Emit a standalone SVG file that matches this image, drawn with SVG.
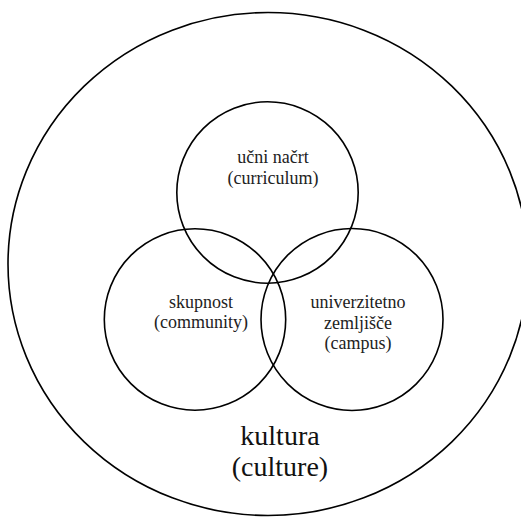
<svg xmlns="http://www.w3.org/2000/svg" width="521" height="517" viewBox="0 0 521 517">
<style>
.c{fill:none;stroke:#000;stroke-width:1.6}
.t{font-size:18px;fill:#222;text-anchor:middle}
.k{font-size:28px;fill:#111;text-anchor:middle}
</style>
<rect width="521" height="517" fill="#fff"/>
<g id="culture" font-family="Liberation Serif, DejaVu Serif, serif">
<ellipse class="c" cx="268" cy="264" rx="260" ry="251.5"/>
<text class="k" x="280" y="445">kultura</text>
<text class="k" x="280" y="476">(culture)</text>
</g>
<g id="curriculum" font-family="Liberation Serif, DejaVu Serif, serif">
<circle class="c" cx="267.5" cy="192.5" r="90.7"/>
<text class="t" x="273" y="163">učni načrt</text>
<text class="t" x="273" y="184">(curriculum)</text>
</g>
<g id="community" font-family="Liberation Serif, DejaVu Serif, serif">
<circle class="c" cx="195" cy="319.5" r="90.7"/>
<text class="t" x="201" y="308">skupnost</text>
<text class="t" x="201" y="328">(community)</text>
</g>
<g id="campus" font-family="Liberation Serif, DejaVu Serif, serif">
<circle class="c" cx="352" cy="319.5" r="91"/>
<text class="t" x="358" y="308">univerzitetno</text>
<text class="t" x="358" y="329">zemljišče</text>
<text class="t" x="358" y="349">(campus)</text>
</g>
<g id="connectors"/>
</svg>
